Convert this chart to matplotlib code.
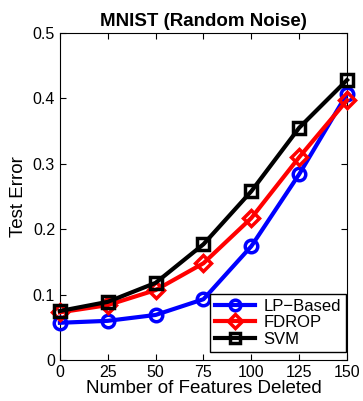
import matplotlib
matplotlib.use('Agg')
import matplotlib.pyplot as plt

# data
features = [0, 25, 50, 75, 100, 125, 150]
lp_based = [0.057, 0.060, 0.069, 0.093, 0.174, 0.284, 0.407]
fdrop = [0.073, 0.084, 0.107, 0.148, 0.217, 0.310, 0.397]
svm = [0.075, 0.089, 0.118, 0.177, 0.258, 0.355, 0.428]

plt.rcParams['font.family'] = ['Liberation Sans', 'DejaVu Sans']

fig = plt.figure(figsize=(3.63, 4.01), dpi=100)
ax = fig.add_axes([0.165, 0.102, 0.791, 0.816])

ax.plot(features, lp_based, '-o', color='blue', lw=3, ms=9, mew=2.5,
        mfc='none', label='LP\u2212Based', clip_on=False, zorder=3)
ax.plot(features, fdrop, '-D', color='red', lw=3, ms=8, mew=2.5,
        mfc='none', label='FDROP', clip_on=False, zorder=3)
ax.plot(features, svm, '-s', color='black', lw=3, ms=9, mew=2.5,
        mfc='none', label='SVM', clip_on=False, zorder=3)

ax.set_xlim(0, 150)
ax.set_ylim(0, 0.5)
ax.set_xticks(features)
ax.set_yticks([0, 0.1, 0.2, 0.3, 0.4, 0.5])
ax.set_yticklabels(['0', '0.1', '0.2', '0.3', '0.4', '0.5'])
ax.tick_params(direction='in', top=True, right=True, labelsize=11.5, length=4)
ax.set_xlabel('Number of Features Deleted', fontsize=13.5, labelpad=0)
ax.set_ylabel('Test Error', fontsize=13.5, labelpad=4)
ax.set_title('MNIST (Random Noise)', fontsize=13.5, fontweight='bold', pad=5)

leg = ax.legend(loc='lower right', bbox_to_anchor=(0.997, 0.025),
                fontsize=12, fancybox=False, edgecolor='black',
                framealpha=1, handlelength=2.4, borderaxespad=0.0,
                labelspacing=0.1, borderpad=0.3, handletextpad=0.5,
                markerscale=0.85)
leg.get_frame().set_linewidth(1)

fig.savefig('out.png', dpi=100)
